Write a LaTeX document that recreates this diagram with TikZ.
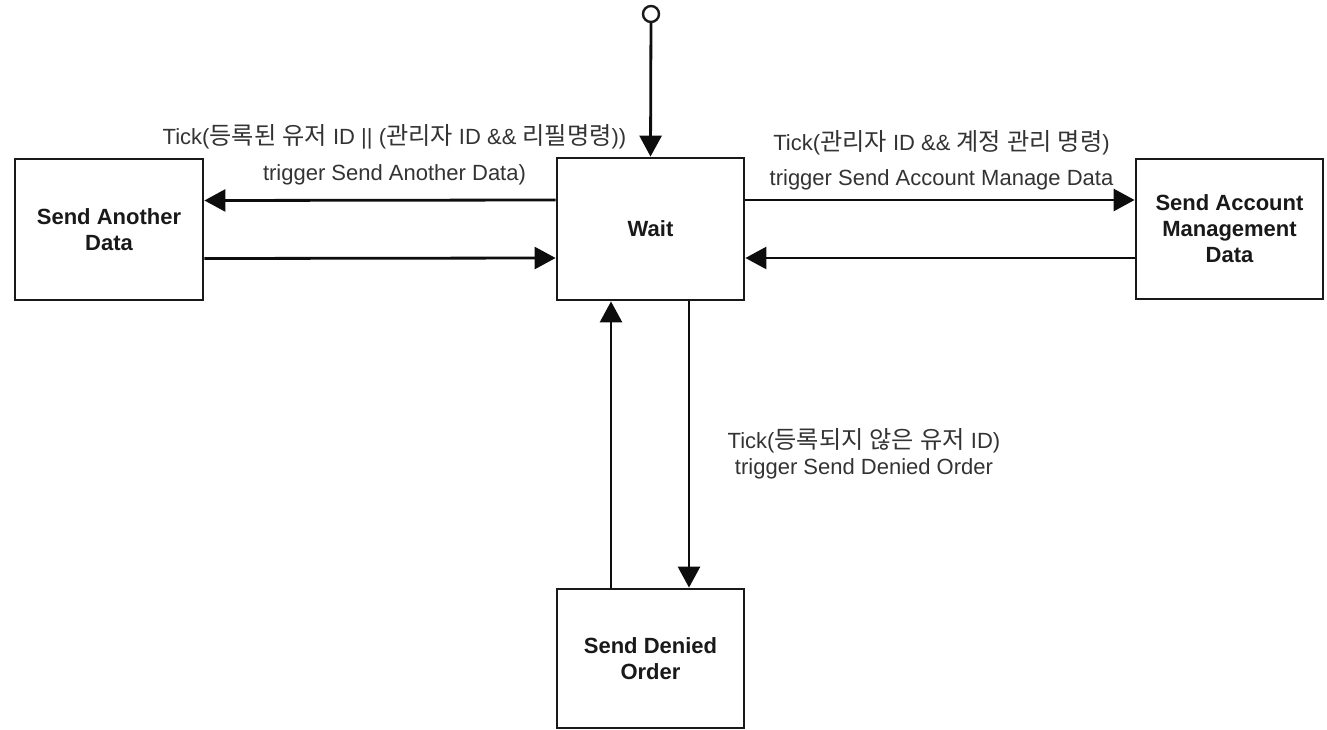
\documentclass[tikz,border=0pt]{standalone}
\usepackage{fontspec}
\setmainfont{Liberation Sans}
\newfontfamily\kr{Noto Sans CJK KR}[Scale=1.1]
\usetikzlibrary{arrows.meta}
\tikzset{
  statebox/.style={draw=black!90, line width=2.8pt, inner sep=0pt, align=center,
    font=\fontsize{22pt}{26pt}\selectfont\bfseries, text=black!90},
  arr/.style={draw=black!95, line width=2.8pt, -{Triangle[length=21pt,width=22pt]}},
  lbl/.style={align=center, inner sep=0pt, font=\fontsize{22pt}{26pt}\selectfont, text=black!80},
}
\begin{document}
\begin{tikzpicture}[x=1pt,y=-1pt]
\useasboundingbox (0,0) rectangle (1327,730);
\node[statebox, minimum width=188pt, minimum height=141pt] (sad) at (109,229.5) {Send Another\\Data};
\node[statebox, minimum width=187pt, minimum height=142pt] (wait) at (650.5,229) {Wait};
\node[statebox, minimum width=187pt, minimum height=140pt] (samd) at (1229.5,229) {Send Account\\Management\\Data};
\node[statebox, minimum width=187pt, minimum height=139pt] (sdo) at (650.5,658.5) {Send Denied\\Order};
\node[circle, draw=black!90, line width=2.4pt, minimum size=16pt, inner sep=0pt] (init) at (651,14) {};

\draw[arr] (init) -- (wait.north);
\draw[arr] ([yshift=29pt]wait.west) -- ([yshift=29pt]sad.east);
\draw[arr] ([yshift=-29pt]sad.east) -- ([yshift=-29pt]wait.west);
\draw[arr] ([yshift=29pt]wait.east) -- ([yshift=29pt]samd.west);
\draw[arr] ([yshift=-29pt]samd.west) -- ([yshift=-29pt]wait.east);
\draw[arr] ([xshift=-39.5pt]sdo.north) -- ([xshift=-39.5pt]wait.south);
\draw[arr] ([xshift=38.5pt]wait.south) -- ([xshift=38.5pt]sdo.north);

\node[lbl] (l1) at (394.5,155) {Tick({\kr 등록된} {\kr 유저} ID || ({\kr 관리자} ID \&\& {\kr 리필명령}))\\[10pt]trigger Send Another Data)};
\node[lbl] (l2) at (941.5,160.5) {Tick({\kr 관리자} ID \&\& {\kr 계정} {\kr 관리} {\kr 명령})\\[9pt]trigger Send Account Manage Data};
\node[lbl] (l3) at (864,454) {Tick({\kr 등록되지} {\kr 않은} {\kr 유저} ID)\\trigger Send Denied Order};
\end{tikzpicture}
\end{document}
